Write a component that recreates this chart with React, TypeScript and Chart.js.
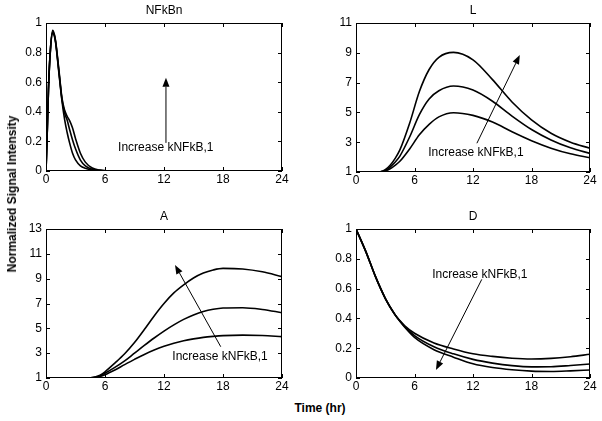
import React, { useEffect, useRef } from "react";
import { Chart, registerables } from "chart.js";

Chart.register(...registerables);

// ---------- data ----------
const xTicks = [0, 6, 12, 18, 24];

const timeNF = [0, 0.1, 0.25, 0.45, 0.68, 0.95, 1.3, 1.63, 1.9, 2.15, 2.4, 2.7, 3.0, 3.5, 4.0, 4.7, 5.5, 7, 24];
const nfkbnLow = [0, 0.2, 0.55, 0.82, 0.93, 0.88, 0.67, 0.47, 0.345, 0.26, 0.19, 0.12, 0.075, 0.035, 0.018, 0.006, 0.002, 0, 0];
const nfkbnMid = [0, 0.2, 0.55, 0.82, 0.94, 0.885, 0.68, 0.48, 0.39, 0.345, 0.28, 0.21, 0.15, 0.074, 0.035, 0.012, 0.004, 0, 0];
const nfkbnHigh = [0, 0.2, 0.55, 0.82, 0.95, 0.89, 0.69, 0.49, 0.41, 0.37, 0.34, 0.29, 0.22, 0.12, 0.06, 0.02, 0.006, 0, 0];

const timeL = [0, 2, 2.5, 3, 3.5, 4, 4.5, 5.5, 6.5, 7.5, 8.5, 10, 12, 14, 16, 18, 20, 22, 24];
const lLow = [1, 1, 1.01, 1.08, 1.22, 1.45, 1.72, 2.55, 3.5, 4.2, 4.7, 4.98, 4.8, 4.35, 3.7, 3.1, 2.6, 2.22, 1.96];
const lMid = [1, 1, 1.02, 1.11, 1.33, 1.65, 2.07, 3.35, 4.85, 5.9, 6.45, 6.77, 6.5, 5.75, 4.75, 3.85, 3.15, 2.62, 2.25];
const lHigh = [1, 1, 1.02, 1.15, 1.45, 1.9, 2.48, 4.27, 6.4, 7.88, 8.7, 9.03, 8.53, 7.2, 5.7, 4.5, 3.6, 3.0, 2.59];

const timeA = [0, 4, 4.5, 5, 5.5, 6, 7, 8, 9, 10, 11, 12, 13, 14, 15, 16, 17, 18, 20, 22, 24];
const aLow = [1, 1, 1.01, 1.05, 1.13, 1.27, 1.65, 2.08, 2.5, 2.9, 3.25, 3.55, 3.8, 4.0, 4.15, 4.27, 4.35, 4.41, 4.45, 4.42, 4.33];
const aMid = [1, 1, 1.02, 1.06, 1.17, 1.38, 1.85, 2.38, 3.0, 3.62, 4.22, 4.78, 5.28, 5.72, 6.08, 6.36, 6.54, 6.64, 6.66, 6.52, 6.26];
const aHigh = [1, 1, 1.02, 1.08, 1.22, 1.5, 2.2, 2.95, 3.85, 4.9, 6.0, 7.0, 7.85, 8.5, 9.05, 9.45, 9.7, 9.83, 9.78, 9.55, 9.16];

const timeD = [0, 1, 2, 3, 4, 4.5, 5, 6, 8, 10, 12, 14, 16, 18, 20, 22, 24];
const dHigh = [1, 0.85, 0.68, 0.535, 0.425, 0.385, 0.35, 0.3, 0.235, 0.195, 0.163, 0.145, 0.133, 0.128, 0.132, 0.143, 0.159];
const dMid = [1, 0.85, 0.68, 0.535, 0.425, 0.382, 0.345, 0.285, 0.21, 0.162, 0.125, 0.1, 0.083, 0.075, 0.076, 0.084, 0.094];
const dLow = [1, 0.85, 0.68, 0.535, 0.425, 0.38, 0.34, 0.272, 0.19, 0.14, 0.095, 0.07, 0.055, 0.046, 0.044, 0.048, 0.054];

const noteText = "Increase kNFkB,1";

// ---------- layout ----------
const FONT = "'Liberation Sans', Arial, Helvetica, sans-serif";
const PAD_TOP = 22;
const AXIS_W = 40;
const AXIS_H = 22;
const PAD_RIGHT = 12;

type Note = { tx: number; ty: number; x0: number; y0: number; x1: number; y1: number };
type PanelDef = {
  title: string;
  left: number;
  top: number;
  w: number;
  h: number;
  xs: number[];
  series: number[][];
  yMin: number;
  yMax: number;
  yStep: number;
  note: Note;
};

const panels: PanelDef[] = [
  {
    title: "NFkBn", left: 46, top: 23, w: 236, h: 148,
    xs: timeNF, series: [nfkbnLow, nfkbnMid, nfkbnHigh],
    yMin: 0, yMax: 1, yStep: 0.2,
    note: { tx: 12.18, ty: 0.155, x0: 12.2, y0: 0.19, x1: 12.2, y1: 0.63 },
  },
  {
    title: "L", left: 356, top: 23, w: 234, h: 149,
    xs: timeL, series: [lLow, lMid, lHigh],
    yMin: 1, yMax: 11, yStep: 2,
    note: { tx: 12.3, ty: 2.3, x0: 12.4, y0: 2.93, x1: 16.8, y1: 8.85 },
  },
  {
    title: "A", left: 46, top: 229, w: 236, h: 149,
    xs: timeA, series: [aLow, aMid, aHigh],
    yMin: 1, yMax: 13, yStep: 2,
    note: { tx: 17.7, ty: 2.71, x0: 17.77, y0: 3.52, x1: 13.12, y1: 10.1 },
  },
  {
    title: "D", left: 356, top: 229, w: 234, h: 149,
    xs: timeD, series: [dLow, dMid, dHigh],
    yMin: 0, yMax: 1, yStep: 0.2,
    note: { tx: 12.7, ty: 0.691, x0: 12.9, y0: 0.662, x1: 8.2, y1: 0.054 },
  },
];

const framePlugin = {
  id: "matlabFrame",
  afterDraw(chart: any) {
    const { ctx, chartArea: a, scales } = chart;
    const x = scales.x;
    const y = scales.y;
    const def: PanelDef = chart.config.options.panelDef;
    ctx.save();
    ctx.strokeStyle = "#000";
    ctx.lineWidth = 1;
    ctx.strokeRect(a.left + 0.5, a.top + 0.5, a.right - a.left - 1, a.bottom - a.top - 1);
    const tl = 4;
    ctx.beginPath();
    x.ticks.forEach((t: any) => {
      const px = Math.round(x.getPixelForValue(t.value)) + 0.5;
      ctx.moveTo(px, a.bottom);
      ctx.lineTo(px, a.bottom - tl);
      ctx.moveTo(px, a.top);
      ctx.lineTo(px, a.top + tl);
    });
    y.ticks.forEach((t: any) => {
      const py = Math.round(y.getPixelForValue(t.value)) + 0.5;
      ctx.moveTo(a.left, py);
      ctx.lineTo(a.left + tl, py);
      ctx.moveTo(a.right, py);
      ctx.lineTo(a.right - tl, py);
    });
    ctx.stroke();

    // title
    ctx.fillStyle = "#000";
    ctx.font = `12px ${FONT}`;
    ctx.textAlign = "center";
    ctx.textBaseline = "middle";
    ctx.fillText(def.title, (a.left + a.right) / 2, a.top - 12);

    // annotation
    const n = def.note;
    ctx.fillText(noteText, x.getPixelForValue(n.tx), y.getPixelForValue(n.ty));
    const x0 = x.getPixelForValue(n.x0);
    const y0 = y.getPixelForValue(n.y0);
    const x1 = x.getPixelForValue(n.x1);
    const y1 = y.getPixelForValue(n.y1);
    const ang = Math.atan2(y1 - y0, x1 - x0);
    const hl = 9;
    const hw = 3.5;
    const bx = x1 - hl * Math.cos(ang);
    const by = y1 - hl * Math.sin(ang);
    ctx.beginPath();
    ctx.moveTo(x0, y0);
    ctx.lineTo(bx, by);
    ctx.stroke();
    ctx.beginPath();
    ctx.moveTo(x1, y1);
    ctx.lineTo(bx + hw * Math.sin(ang), by - hw * Math.cos(ang));
    ctx.lineTo(bx - hw * Math.sin(ang), by + hw * Math.cos(ang));
    ctx.closePath();
    ctx.fill();
    ctx.restore();
  },
};

function Panel({ def }: { def: PanelDef }) {
  const ref = useRef<HTMLCanvasElement | null>(null);
  const cw = def.w + AXIS_W + PAD_RIGHT;
  const ch = def.h + PAD_TOP + AXIS_H;
  useEffect(() => {
    if (!ref.current) return;
    const tickFont = { family: FONT, size: 12 };
    const chart = new Chart(ref.current, {
      type: "line",
      data: {
        datasets: def.series.map((s) => ({
          data: def.xs.map((t, i) => ({ x: t, y: s[i] })),
          borderColor: "#000",
          borderWidth: 1.6,
          pointRadius: 0,
          fill: false,
          cubicInterpolationMode: "monotone" as const,
        })),
      },
      options: {
        animation: false,
        responsive: false,
        maintainAspectRatio: false,
        devicePixelRatio: 1,
        events: [],
        layout: { padding: { top: PAD_TOP, right: PAD_RIGHT, left: 0, bottom: 0 } },
        plugins: { legend: { display: false }, tooltip: { enabled: false }, title: { display: false } },
        scales: {
          x: {
            type: "linear",
            min: 0,
            max: 24,
            afterBuildTicks: (s: any) => {
              s.ticks = xTicks.map((v) => ({ value: v }));
            },
            ticks: { font: tickFont, color: "#000", padding: 1, maxRotation: 0, autoSkip: false },
            grid: { display: false, drawTicks: false },
            border: { display: false },
            afterFit: (s: any) => {
              s.height = AXIS_H;
            },
          },
          y: {
            type: "linear",
            min: def.yMin,
            max: def.yMax,
            ticks: {
              stepSize: def.yStep,
              font: tickFont,
              color: "#000",
              padding: 4,
              callback: (v: any) => String(Number(Number(v).toFixed(3))),
            },
            grid: { display: false, drawTicks: false },
            border: { display: false },
            afterFit: (s: any) => {
              s.width = AXIS_W;
            },
          },
        },
        panelDef: def,
      } as any,
      plugins: [framePlugin],
    });
    return () => chart.destroy();
  }, [def]);
  return (
    <canvas
      ref={ref}
      width={cw}
      height={ch}
      style={{
        position: "absolute",
        left: def.left - AXIS_W,
        top: def.top - PAD_TOP,
        width: cw,
        height: ch,
      }}
    />
  );
}

export default function App() {
  return (
    <div
      style={{
        position: "absolute",
        left: 0,
        top: 0,
        width: 602,
        height: 421,
        overflow: "hidden",
        background: "#fff",
        fontFamily: FONT,
      }}
    >
      {panels.map((p) => (
        <Panel key={p.title} def={p} />
      ))}
      <div
        style={{
          position: "absolute",
          left: 12,
          top: 194,
          transform: "translate(-50%, -50%) rotate(-90deg)",
          whiteSpace: "nowrap",
          fontWeight: "bold",
          fontSize: 12,
          color: "#000",
        }}
      >
        Normalized Signal Intensity
      </div>
      <div
        style={{
          position: "absolute",
          left: 320,
          top: 408,
          transform: "translate(-50%, -50%)",
          whiteSpace: "nowrap",
          fontWeight: "bold",
          fontSize: 12,
          color: "#000",
        }}
      >
        Time (hr)
      </div>
    </div>
  );
}
